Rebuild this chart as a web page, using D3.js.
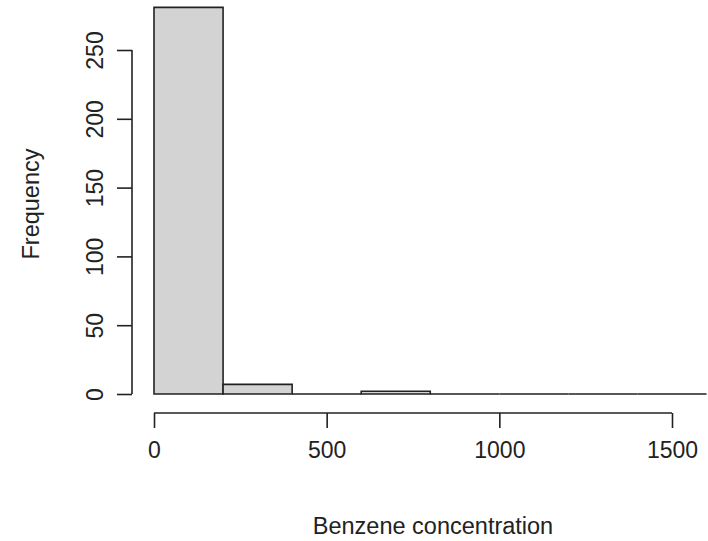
<!DOCTYPE html>
<html>
<head>
<meta charset="utf-8">
<script src="https://cdn.jsdelivr.net/npm/d3@7"></script>
<style>
  body { margin: 0; background: #fff; }
  text { font-family: "Liberation Sans", Arial, sans-serif; fill: #222; }
</style>
</head>
<body>
<script>
// histogram bins (width 200) and counts
var binStarts = [0, 200, 400, 600, 800, 1000, 1200, 1400];
var binWidth = 200;
var counts = [281, 7, 0, 2, 0, 0, 0, 0];
var xTicks = [0, 500, 1000, 1500];
var yTicks = [0, 50, 100, 150, 200, 250];

var width = 708, height = 541;

var svg = d3.select("body").append("svg")
    .attr("width", width)
    .attr("height", height);

var x = d3.scaleLinear().domain([0, 1500]).range([154, 672]);
var y = d3.scaleLinear().domain([0, 250]).range([394, 50]);

// bars, drawn as closed paths so empty bins still show as a line (like R)
svg.append("g").selectAll("path")
    .data(binStarts).enter()
    .append("path")
    .attr("d", function(d, i) {
        var x0 = x(d), x1 = x(d + binWidth), y0 = y(0), y1 = y(counts[i]);
        return "M" + x0 + "," + y0 + "V" + y1 + "H" + x1 + "V" + y0 + "Z";
    })
    .attr("fill", "#d3d3d3")
    .attr("stroke", "#222")
    .attr("stroke-width", 1.6);

// x axis
var xAxis = d3.axisBottom(x).tickValues(xTicks).tickFormat(d3.format("d"))
    .tickSize(15).tickPadding(14);
var gx = svg.append("g").attr("transform", "translate(0,413)").call(xAxis);
gx.select(".domain").attr("d", "M" + x(0) + ",0H" + x(1500)).attr("stroke", "#222").attr("stroke-width", 1.6);
gx.selectAll(".tick line").attr("stroke", "#222").attr("stroke-width", 1.6);
gx.selectAll(".tick text").attr("font-size", 23).attr("fill", "#222")
    .attr("font-family", "Liberation Sans, Arial, sans-serif");

// y axis
var yAxis = d3.axisLeft(y).tickValues(yTicks).tickFormat(d3.format("d"))
    .tickSize(15).tickPadding(0);
var gy = svg.append("g").attr("transform", "translate(132,0)").call(yAxis);
gy.select(".domain").attr("d", "M0," + y(0) + "V" + y(250)).attr("stroke", "#222").attr("stroke-width", 1.6);
gy.selectAll(".tick line").attr("stroke", "#222").attr("stroke-width", 1.6);
gy.selectAll(".tick text")
    .attr("font-size", 23).attr("fill", "#222")
    .attr("font-family", "Liberation Sans, Arial, sans-serif")
    .attr("x", null).attr("dy", null)
    .attr("text-anchor", "middle")
    .attr("transform", "translate(-29,0) rotate(-90)");

// titles
svg.append("text")
    .attr("x", 433).attr("y", 534)
    .attr("text-anchor", "middle")
    .attr("font-size", 23.5)
    .text("Benzene concentration");

svg.append("text")
    .attr("transform", "translate(39,204) rotate(-90)")
    .attr("text-anchor", "middle")
    .attr("font-size", 23.5)
    .text("Frequency");
</script>
</body>
</html>
